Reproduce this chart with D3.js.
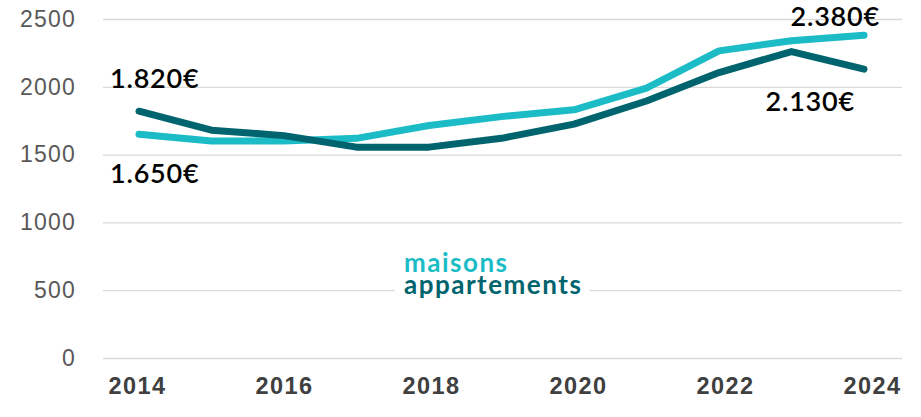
<!DOCTYPE html>
<html>
<head>
<meta charset="utf-8">
<script src="https://cdn.jsdelivr.net/npm/d3@7"></script>
<style>
  body { margin: 0; background: #fff; }
  svg { display: block; }
</style>
</head>
<body>
<div id="chart"></div>
<script>
const years = [2014, 2015, 2016, 2017, 2018, 2019, 2020, 2021, 2022, 2023, 2024];
const maisons = [1650, 1600, 1600, 1620, 1715, 1780, 1830, 1990, 2265, 2340, 2380];
const appartements = [1820, 1680, 1640, 1555, 1555, 1620, 1725, 1895, 2105, 2260, 2130];
const yTicks = [0, 500, 1000, 1500, 2000, 2500];
const xTicks = [2014, 2016, 2018, 2020, 2022, 2024];
const seriesNames = ["maisons", "appartements"];
const endLabels = ["1.650€", "2.380€", "1.820€", "2.130€"];

const W = 921, H = 417;
const cMaisons = "#1bbcc6", cApparts = "#00646e";

const svg = d3.select("#chart").append("svg").attr("width", W).attr("height", H);

const x = d3.scaleLinear().domain([2014, 2024]).range([139, 864]);
const xLab = d3.scaleLinear().domain([2014, 2024]).range([137, 872]);
const y = d3.scaleLinear().domain([0, 2500]).range([358, 19]);

// Y gridlines
svg.append("g")
  .attr("transform", "translate(103,0)")
  .call(d3.axisLeft(y).tickValues(yTicks).tickSize(-799).tickFormat(""))
  .call(g => g.select(".domain").remove())
  .call(g => g.selectAll("line").attr("stroke", "#d9d9d9").attr("stroke-width", 1.3));

// Y labels
svg.append("g")
  .attr("transform", "translate(76,0)")
  .call(d3.axisLeft(y).tickValues(yTicks).tickSize(0).tickPadding(0).tickFormat(d3.format("d")))
  .call(g => g.select(".domain").remove())
  .call(g => g.selectAll("text")
    .attr("font-family", "Liberation Sans, Arial, sans-serif")
    .attr("font-size", 23)
    .attr("letter-spacing", 1.2)
    .attr("fill", "#595959"));

// X labels
svg.append("g")
  .attr("transform", "translate(0,377)")
  .call(d3.axisBottom(xLab).tickValues(xTicks).tickSize(0).tickPadding(0).tickFormat(d3.format("d")))
  .call(g => g.select(".domain").remove())
  .call(g => g.selectAll("text")
    .attr("font-family", "Liberation Sans, Arial, sans-serif")
    .attr("font-size", 23.5)
    .attr("font-weight", "bold")
    .attr("letter-spacing", 1.4)
    .attr("fill", "#404040"));

// Legend (white backing masks the gridline)
const legend = svg.append("g");
const legendBg = legend.append("rect").attr("fill", "#fff");
legend.selectAll("text.leg")
  .data(seriesNames)
  .enter()
  .append("text")
  .attr("class", "leg")
  .attr("x", 404)
  .attr("y", (d, i) => 272 + i * 22)
  .attr("font-family", "Lato, 'Open Sans', sans-serif")
  .attr("font-weight", "bold")
  .attr("font-size", 26)
  .attr("letter-spacing", 1.5)
  .attr("fill", (d, i) => i === 0 ? cMaisons : cApparts)
  .text(d => d);
const bb = legend.node().getBBox();
legendBg.attr("x", bb.x - 9).attr("y", bb.y).attr("width", bb.width + 16).attr("height", bb.height);

// Lines
const line = d3.line()
  .x((d, i) => x(years[i]))
  .y(d => y(d));

[[maisons, cMaisons], [appartements, cApparts]].forEach(([vals, col]) => {
  svg.append("path")
    .datum(vals)
    .attr("d", line)
    .attr("fill", "none")
    .attr("stroke", col)
    .attr("stroke-width", 7)
    .attr("stroke-linejoin", "round")
    .attr("stroke-linecap", "round");
});

// End value annotations
const ann = [
  { t: endLabels[0], xv: 2014, v: maisons[0], dx: -29, dy: 49, anchor: "start" },
  { t: endLabels[1], xv: 2024, v: maisons[10], dx: 16, dy: -9, anchor: "end" },
  { t: endLabels[2], xv: 2014, v: appartements[0], dx: -29, dy: -23, anchor: "start" },
  { t: endLabels[3], xv: 2024, v: appartements[10], dx: -9, dy: 42, anchor: "end" },
];
svg.selectAll("text.ann")
  .data(ann)
  .enter()
  .append("text")
  .attr("class", "ann")
  .attr("x", d => x(d.xv) + d.dx)
  .attr("y", d => y(d.v) + d.dy)
  .attr("text-anchor", d => d.anchor)
  .attr("font-family", "Lato, 'Open Sans', sans-serif")
  .attr("font-size", 27)
  .attr("font-weight", 600)
  .attr("letter-spacing", 0.8)
  .attr("fill", "#000")
  .text(d => d.t);
</script>
</body>
</html>
